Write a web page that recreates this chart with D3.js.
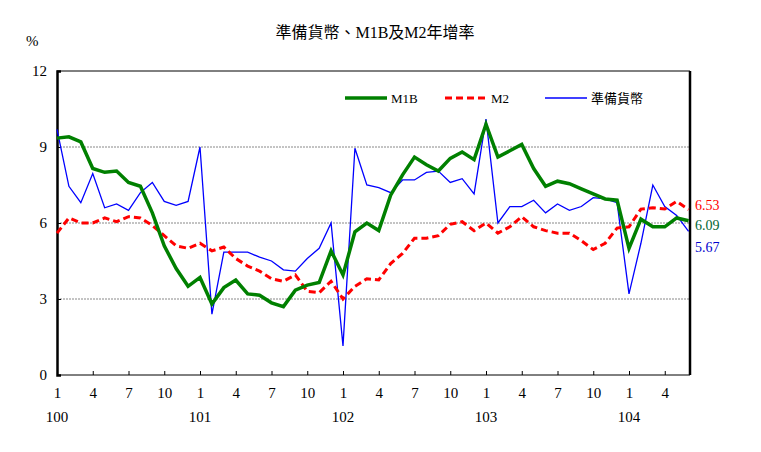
<!DOCTYPE html>
<html><head><meta charset="utf-8">
<script src="https://cdn.jsdelivr.net/npm/d3@7"></script>
<style>body{margin:0;background:#fff}text{font-family:"Liberation Serif","Noto Sans CJK TC",serif}</style>
</head><body><div id="chart"></div>
<script>
var years = ["100", "101", "102", "103", "104"];
var m1b = [9.35,9.4,9.2,8.15,8.0,8.05,7.6,7.45,6.4,5.1,4.2,3.5,
  3.85,2.8,3.45,3.75,3.2,3.15,2.85,2.7,3.35,3.55,3.65,4.9,
  3.95,5.65,6.0,5.7,7.1,7.9,8.6,8.3,8.05,8.55,8.8,8.5,
  9.9,8.6,8.85,9.1,8.15,7.45,7.65,7.55,7.35,7.15,6.95,6.9,
  5.0,6.15,5.85,5.85,6.2,6.09];
var m2 = [5.6,6.2,6.0,6.0,6.2,6.05,6.25,6.2,5.9,5.5,5.1,5.0,
  5.2,4.9,5.05,4.6,4.3,4.1,3.8,3.7,3.95,3.3,3.25,3.7,
  3.0,3.5,3.8,3.75,4.4,4.8,5.4,5.4,5.5,5.95,6.05,5.7,
  6.0,5.6,5.85,6.25,5.85,5.7,5.6,5.6,5.3,4.95,5.2,5.8,
  5.85,6.55,6.6,6.55,6.85,6.53];
var reserve = [9.7,7.45,6.8,7.95,6.6,6.75,6.5,7.2,7.6,6.85,6.7,6.85,
  9.0,2.4,4.85,4.85,4.85,4.65,4.5,4.15,4.1,4.6,5.0,6.0,
  1.15,8.95,7.5,7.4,7.2,7.7,7.7,8.0,8.05,7.6,7.75,7.15,
  10.1,6.0,6.65,6.65,6.9,6.4,6.75,6.5,6.65,7.0,6.95,6.8,
  3.2,5.2,7.5,6.65,6.3,5.67];
var yTicks = [0, 3, 6, 9, 12];

var svg = d3.select("#chart").append("svg").attr("width", 761).attr("height", 452);
var x = d3.scaleLinear().domain([0, 53.5]).range([57, 690]);
var xp = d3.scaleLinear().domain([0, 12]).range([57, 200]);
var y = d3.scaleLinear().domain([0, 12]).range([375, 71]);

svg.append("text").attr("x", 375).attr("y", 38).attr("text-anchor", "middle")
  .style("font-size", "16px").text("準備貨幣、M1B及M2年增率");
svg.append("text").attr("x", 26).attr("y", 46).style("font-size", "15px").text("%");

// grid
svg.selectAll(".grid").data([3, 6, 9]).enter().append("line")
  .attr("x1", 57).attr("x2", 690).attr("y1", d => y(d)).attr("y2", d => y(d))
  .attr("stroke", "#888").attr("stroke-dasharray", "2,1");

var yAxis = svg.append("g").attr("transform", "translate(57,0)")
  .call(d3.axisLeft(y).tickValues(yTicks).tickSize(-4).tickPadding(10));
yAxis.select(".domain").attr("stroke-width", 2.5);
yAxis.selectAll("text").style("font-size", "15px").attr("font-family", "Liberation Serif");

var months = d3.range(0, 54, 3);
var xAxis = svg.append("g").attr("transform", "translate(0,375)")
  .call(d3.axisBottom(xp).tickValues(months).tickSize(-4).tickPadding(12).tickFormat(d => (d % 12) + 1));
xAxis.select(".domain").remove();
xAxis.selectAll("text").style("font-size", "15px").attr("font-family", "Liberation Serif");
svg.append("line").attr("x1", 57).attr("x2", 690).attr("y1", 375).attr("y2", 375).attr("stroke", "#000");
svg.append("line").attr("x1", 690).attr("x2", 690).attr("y1", 71).attr("y2", 375).attr("stroke", "#000").attr("stroke-width", 2.5);
svg.append("line").attr("x1", 57).attr("x2", 690).attr("y1", 71).attr("y2", 71).attr("stroke", "#000");
svg.selectAll(".yr").data(years).enter().append("text")
  .attr("x", (d, i) => xp(i * 12)).attr("y", 422).attr("text-anchor", "middle")
  .style("font-size", "15px").text(d => d);

var line = d3.line().x((d, i) => xp(i)).y(d => y(d));
svg.append("path").datum(reserve).attr("d", line).attr("fill", "none").attr("stroke", "#0000ff").attr("stroke-width", 1.3);
svg.append("path").datum(m2).attr("d", line).attr("fill", "none").attr("stroke", "#ff0000").attr("stroke-width", 3).attr("stroke-dasharray", "7,4");
svg.append("path").datum(m1b).attr("d", line).attr("fill", "none").attr("stroke", "#008000").attr("stroke-width", 3.5);

// legend
var legend = [
  {name: "M1B", color: "#008000", w: 3.5, dash: null, x: 345},
  {name: "M2", color: "#ff0000", w: 3, dash: "7,4", x: 445},
  {name: "準備貨幣", color: "#0000ff", w: 1.3, dash: null, x: 545}];
legend.forEach(function (l) {
  svg.append("line").attr("x1", l.x).attr("x2", l.x + 42).attr("y1", 98).attr("y2", 98)
    .attr("stroke", l.color).attr("stroke-width", l.w).attr("stroke-dasharray", l.dash);
  svg.append("text").attr("x", l.x + 46).attr("y", 103).style("font-size", "13px").text(l.name);
});

// end labels
[{v: "6.53", c: "#ff0000", yy: 210}, {v: "6.09", c: "#006633", yy: 230}, {v: "5.67", c: "#0000cc", yy: 252}]
  .forEach(function (l) {
    svg.append("text").attr("x", 695).attr("y", l.yy).attr("fill", l.c).style("font-size", "14px").text(l.v);
  });
</script></body></html>
